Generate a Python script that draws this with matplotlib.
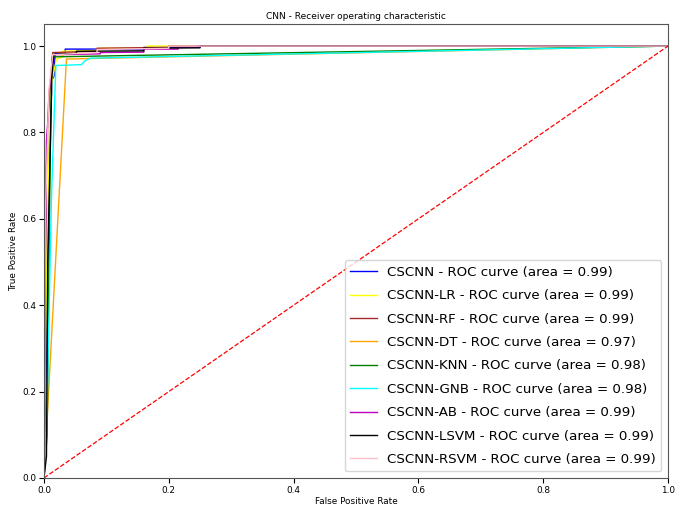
import matplotlib
matplotlib.use("Agg")
import matplotlib.pyplot as plt

# ROC points (fpr, tpr per model)
fpr_cscnn = [0.0, 0.004, 0.009, 0.012, 0.012, 0.016, 0.018, 0.034, 0.034, 0.160, 0.160, 0.250, 0.250, 1.0]
tpr_cscnn = [0.0, 0.30, 0.80, 0.89, 0.92, 0.93, 0.983, 0.983, 0.993, 0.993, 0.997, 0.997, 1.0, 1.0]
fpr_lr = [0.0, 0.004, 0.010, 0.020, 0.030, 0.030, 0.090, 0.090, 0.165, 0.165, 1.0]
tpr_lr = [0.0, 0.45, 0.90, 0.970, 0.975, 0.988, 0.990, 0.995, 0.995, 1.0, 1.0]
fpr_rf = [0.0, 0.002, 0.004, 0.006, 0.010, 0.014, 0.085, 0.085, 0.200, 0.200, 1.0]
tpr_rf = [0.0, 0.45, 0.72, 0.82, 0.91, 0.985, 0.988, 0.995, 0.997, 1.0, 1.0]
fpr_dt = [0.0, 0.036, 1.0]
tpr_dt = [0.0, 0.97, 1.0]
fpr_knn = [0.0, 0.005, 0.010, 0.013, 1.0]
tpr_knn = [0.0, 0.10, 0.75, 0.975, 1.0]
fpr_gnb = [0.0, 0.004, 0.012, 0.019, 0.060, 0.065, 0.074, 1.0]
tpr_gnb = [0.0, 0.10, 0.65, 0.955, 0.957, 0.965, 0.972, 1.0]
fpr_ab = [0.0, 0.002, 0.004, 0.006, 0.008, 0.012, 0.014, 0.016, 0.090, 0.090,
          0.160, 0.160, 0.215, 0.215, 0.245, 0.245, 1.0]
tpr_ab = [0.0, 0.50, 0.78, 0.82, 0.89, 0.94, 0.975, 0.980, 0.982, 0.985,
          0.986, 0.993, 0.993, 0.998, 0.998, 1.0, 1.0]
fpr_lsvm = [0.0, 0.004, 0.006, 0.012, 0.012, 0.016, 0.052, 0.052, 0.160, 0.160, 0.250, 0.250, 1.0]
tpr_lsvm = [0.0, 0.05, 0.50, 0.885, 0.92, 0.981, 0.983, 0.988, 0.989, 0.995, 0.996, 1.0, 1.0]
fpr_rsvm = [0.0, 0.002, 0.008, 0.014, 0.085, 0.085, 0.200, 0.200, 1.0]
tpr_rsvm = [0.0, 0.60, 0.90, 0.980, 0.985, 0.992, 0.995, 1.0, 1.0]

names = ["CSCNN", "CSCNN-LR", "CSCNN-RF", "CSCNN-DT", "CSCNN-KNN",
         "CSCNN-GNB", "CSCNN-AB", "CSCNN-LSVM", "CSCNN-RSVM"]
areas = [0.99, 0.99, 0.99, 0.97, 0.98, 0.98, 0.99, 0.99, 0.99]
colors = ["blue", "yellow", "brown", "orange", "green", "aqua", "m", "black", "pink"]
curves = [(fpr_cscnn, tpr_cscnn), (fpr_lr, tpr_lr), (fpr_rf, tpr_rf),
          (fpr_dt, tpr_dt), (fpr_knn, tpr_knn), (fpr_gnb, tpr_gnb),
          (fpr_ab, tpr_ab), (fpr_lsvm, tpr_lsvm), (fpr_rsvm, tpr_rsvm)]

fig = plt.figure(figsize=(6.85, 5.08), dpi=100)
ax = fig.add_axes([0.0642, 0.0591, 0.911, 0.8927])

for (fpr, tpr), name, auc, c in zip(curves, names, areas, colors):
    ax.plot(fpr, tpr, color=c, lw=1,
            label=f"{name} - ROC curve (area = {auc:.2f})")
ax.plot([0, 1], [0, 1], "r--", lw=0.9)

ax.set_xlim(0.0, 1.0)
ax.set_ylim(0.0, 1.05)
ax.tick_params(labelsize=6.4, pad=2)
for s in ax.spines.values():
    s.set_color("#555555")
ax.set_xlabel("False Positive Rate", fontsize=6.4, labelpad=2)
ax.set_ylabel("True Positive Rate", fontsize=6.4, labelpad=3)
ax.set_title("CNN - Receiver operating characteristic", fontsize=6.5, pad=4)
ax.legend(loc="lower right", fontsize=9.6, labelspacing=0.78)

fig.savefig("out.png", dpi=100)
